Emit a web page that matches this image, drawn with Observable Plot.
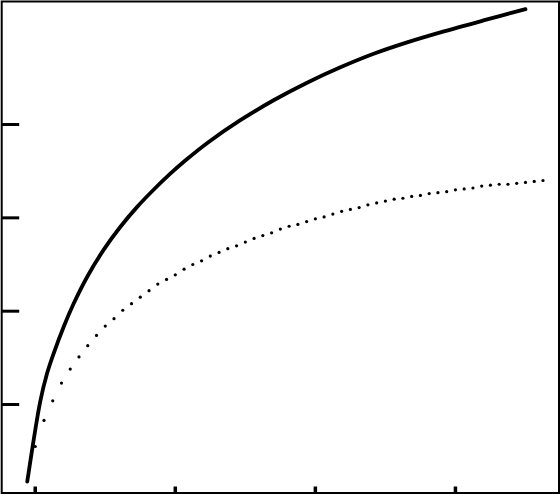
<!DOCTYPE html>
<html>
<head>
<meta charset="utf-8">
<style>
  html, body { margin: 0; padding: 0; background: #fff; }
  #chart svg { display: block; }
</style>
<script src="https://cdn.jsdelivr.net/npm/d3@7"></script>
<script src="https://cdn.jsdelivr.net/npm/@observablehq/plot@0.6"></script>
</head>
<body>
<div id="chart"></div>
<script>
// Tick positions (no labels shown in the reference)
const xTicks = [0, 16, 32, 48];
const yTicks = [10, 20, 30, 40];

// Solid curve
const solidX = [-0.91, -0.19, 0.57, 1.34, 2.09, 3.23, 4.38, 5.91, 7.81, 9.71, 11.62, 13.52, 15.43, 17.14, 19.62, 23.43, 27.23, 31.05, 34.86, 38.66, 42.48, 46.29, 51.2, 56.0];
const solidY = [1.75, 6.14, 10.32, 13.29, 15.43, 18.28, 20.79, 23.64, 26.57, 29.02, 31.15, 33.01, 34.73, 36.14, 38.0, 40.46, 42.60, 44.48, 46.13, 47.58, 48.80, 49.87, 51.15, 52.36];

// Dotted series (one dot per sample)
const dotX = [0, 1, 2, 3, 4, 5, 6, 7, 8, 9, 10, 11, 12, 13, 14, 15, 16, 17, 18, 19,
              20, 21, 22, 23, 24, 25, 26, 27, 28, 29, 30, 31, 32, 33, 34, 35, 36, 37, 38, 39,
              40, 41, 42, 43, 44, 45, 46, 47, 48, 49, 50, 51, 52, 53, 54, 55, 56, 57, 58];
const dotY = [5.5, 8.3, 10.4, 12.3, 13.8, 15.1, 16.3, 17.4, 18.4, 19.2, 20.1, 20.8, 21.5, 22.2, 22.9, 23.4, 23.9, 24.5, 25.0, 25.4,
              25.9, 26.3, 26.7, 27.0, 27.4, 27.8, 28.1, 28.4, 28.8, 29.1, 29.3, 29.6, 29.9, 30.1, 30.4, 30.7, 30.9, 31.1, 31.4, 31.6,
              31.8, 32.0, 32.1, 32.3, 32.4, 32.6, 32.7, 32.8, 33.0, 33.1, 33.2, 33.4, 33.5, 33.6, 33.6, 33.7, 33.8, 33.9, 34.0];

const solid = solidX.map((x, i) => ({x, y: solidY[i]}));
const dots = dotX.map((x, i) => ({x, y: dotY[i]}));

const chart = Plot.plot({
  width: 560,
  height: 494,
  marginLeft: 1.2,
  marginRight: 1.5,
  marginTop: 1,
  marginBottom: 1.5,
  x: {domain: [-3.83, 59.83]},
  y: {domain: [0.52, 53.18]},
  style: {background: "#fff"},
  marks: [
    Plot.frame({stroke: "#000", strokeWidth: 2}),
    Plot.axisY(yTicks, {anchor: "left", tickSize: 18, dx: 18, strokeWidth: 3, tickFormat: () => "", label: null}),
    Plot.axisX(xTicks, {anchor: "bottom", tickSize: 6, dy: -6, strokeWidth: 3.5, tickFormat: () => "", label: null}),
    Plot.line(solid, {x: "x", y: "y", stroke: "#000", strokeWidth: 3.8, curve: "catmull-rom"}),
    Plot.dot(dots, {x: "x", y: "y", r: 1.6, fill: "#000", stroke: "none"})
  ]
});
document.getElementById("chart").appendChild(chart);
</script>
</body>
</html>
